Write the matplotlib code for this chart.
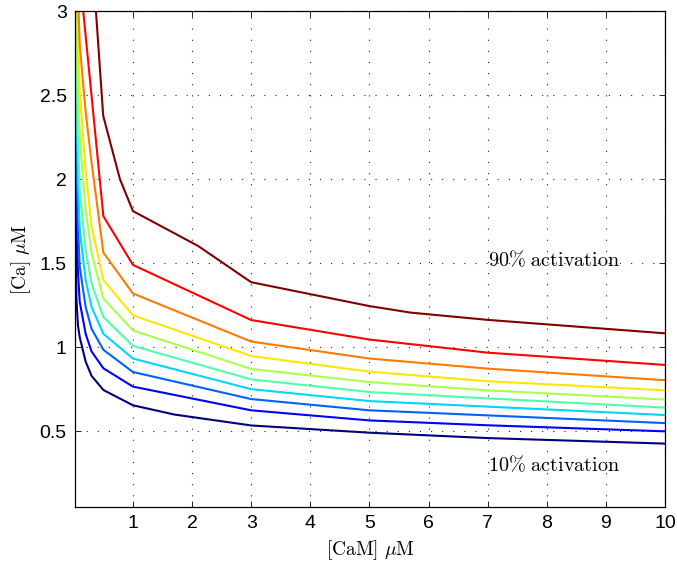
import numpy as np
import matplotlib
matplotlib.use('Agg')
import matplotlib.pyplot as plt

plt.rcParams['font.family'] = ['Liberation Sans', 'DejaVu Sans']
plt.rcParams['mathtext.fontset'] = 'cm'

# contour lines of activation, lowest (10%) to highest (90%)
cam_1 = [0.022, 0.03, 0.044, 0.07, 0.1, 0.2, 0.3, 0.5, 1, 1.7, 3, 5, 7, 10]
ca_1 = [3.0, 1.8, 1.29, 1.13, 1.06, 0.915, 0.83, 0.746, 0.655, 0.60, 0.535, 0.492, 0.46, 0.427]

cam_2 = [0.024, 0.03, 0.05, 0.07, 0.1, 0.2, 0.3, 0.5, 1, 3, 5, 7, 10]
ca_2 = [3.0, 2.4, 1.75, 1.45, 1.27, 1.08, 0.975, 0.875, 0.766, 0.625, 0.565, 0.536, 0.50]

cam_3 = [0.027, 0.035, 0.05, 0.07, 0.1, 0.2, 0.3, 0.5, 1, 3, 5, 7, 10]
ca_3 = [3.0, 2.5, 2.05, 1.72, 1.48, 1.24, 1.11, 0.985, 0.853, 0.692, 0.625, 0.595, 0.549]

cam_4 = [0.031, 0.045, 0.07, 0.1, 0.2, 0.3, 0.5, 1, 3, 5, 7, 10]
ca_4 = [3.0, 2.45, 2.0, 1.7, 1.40, 1.24, 1.08, 0.933, 0.751, 0.680, 0.647, 0.597]

cam_5 = [0.036, 0.05, 0.07, 0.1, 0.2, 0.3, 0.5, 1, 3, 5, 7, 10]
ca_5 = [3.0, 2.6, 2.25, 1.93, 1.58, 1.38, 1.18, 1.008, 0.809, 0.734, 0.696, 0.641]

cam_6 = [0.045, 0.07, 0.1, 0.2, 0.3, 0.5, 1, 3, 5, 7, 10]
ca_6 = [3.0, 2.6, 2.25, 1.82, 1.56, 1.29, 1.10, 0.871, 0.793, 0.744, 0.689]

cam_7 = [0.064, 0.1, 0.2, 0.3, 0.5, 1, 3, 5, 7, 10]
ca_7 = [3.0, 2.52, 2.05, 1.72, 1.40, 1.19, 0.948, 0.855, 0.798, 0.744]

cam_8 = [0.08, 0.1, 0.2, 0.3, 0.5, 1, 3, 5, 7, 10]
ca_8 = [3.0, 2.80, 2.40, 2.10, 1.563, 1.32, 1.034, 0.933, 0.873, 0.804]

cam_9 = [0.159, 0.5, 1, 3, 5, 7, 10]
ca_9 = [3.0, 1.78, 1.49, 1.162, 1.046, 0.968, 0.895]

cam_10 = [0.374, 0.497, 0.78, 1, 2.1, 3, 5, 5.7, 7, 10]
ca_10 = [3.0, 2.377, 2.0, 1.81, 1.603, 1.387, 1.245, 1.206, 1.163, 1.083]

cams = [cam_1, cam_2, cam_3, cam_4, cam_5, cam_6, cam_7, cam_8, cam_9, cam_10]
cas = [ca_1, ca_2, ca_3, ca_4, ca_5, ca_6, ca_7, ca_8, ca_9, ca_10]

fig = plt.figure(figsize=(6.77, 5.62), dpi=100)
ax = fig.add_axes([75 / 677, 55 / 562, 590 / 677, 496 / 562])

colors = plt.cm.jet(np.linspace(0, 1, len(cams)))
colors[-2] = (1, 0, 0, 1)
for x, y, c in zip(cams, cas, colors):
    ax.plot(x, y, color=c, linewidth=1.5)

ax.set_xlim(0.02, 10)
ax.set_ylim(0.05, 3)
ax.set_xticks(range(1, 11))
ax.set_yticks([0.5, 1, 1.5, 2, 2.5, 3])
ax.set_yticklabels(['0.5', '1', '1.5', '2', '2.5', '3'])
ax.grid(True, color='#222222', linestyle=(0, (1, 9)), linewidth=0.8)
ax.tick_params(direction='in', top=True, right=True, length=4, width=0.6,
               labelsize=14, pad=6)
for s in ax.spines.values():
    s.set_linewidth(0.9)

ax.set_xlabel(r'$\mathrm{[CaM]}\ \mu\mathrm{M}$', fontsize=14, labelpad=4)
ax.set_ylabel(r'$\mathrm{[Ca]}\ \mu\mathrm{M}$', fontsize=14, labelpad=5)

ax.text(7.0, 1.52, r'$\mathrm{90\%\ activation}$', fontsize=14.5, va='center', ha='left')
ax.text(7.0, 0.30, r'$\mathrm{10\%\ activation}$', fontsize=14.5, va='center', ha='left')

fig.savefig('out.png', dpi=100)
